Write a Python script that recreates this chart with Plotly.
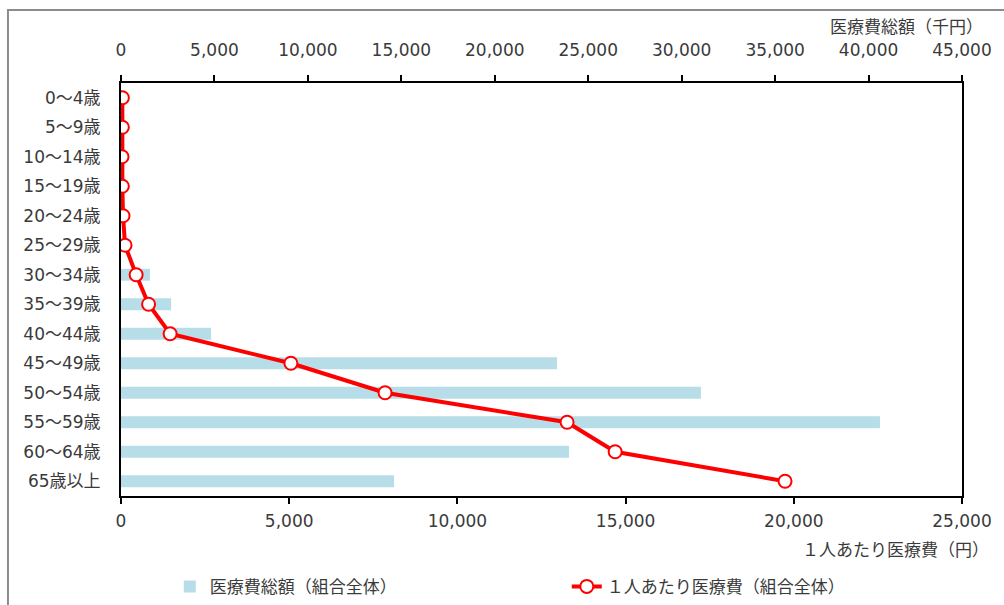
import plotly.graph_objects as go

# Age groups (top to bottom)
age_groups = ["0～4歳", "5～9歳", "10～14歳", "15～19歳", "20～24歳", "25～29歳",
              "30～34歳", "35～39歳", "40～44歳", "45～49歳", "50～54歳", "55～59歳",
              "60～64歳", "65歳以上"]

# Total medical expenses, whole association (thousand yen)
total_cost = [0, 0, 0, 0, 0, 0, 1550, 2680, 4820, 23330, 31030, 40610, 23970, 14610]

# Medical expenses per person, whole association (yen)
per_person = [40, 40, 30, 40, 60, 120, 450, 820, 1460, 5050, 7850, 13260, 14690, 19740]

FONT = "DejaVu Sans, Noto Sans CJK JP, sans-serif"
TXT = "#3a3a3a"
FS = 17

fig = go.Figure()

# bars on the top axis (thousand yen)
fig.add_trace(go.Bar(
    y=age_groups, x=total_cost, orientation="h", xaxis="x",
    name="医療費総額（組合全体）",
    marker=dict(color="#B7DDE8", line=dict(width=0)),
))

# per-person line on the bottom axis (yen), drawn above the bars
fig.add_trace(go.Scatter(
    y=age_groups, x=per_person, xaxis="x2", mode="lines+markers",
    name="１人あたり医療費（組合全体）",
    line=dict(color="#FF0000", width=4),
    marker=dict(symbol="circle", size=13, color="white",
                line=dict(color="#FF0000", width=2)),
))

axis_common = dict(
    showgrid=False, zeroline=False, showline=True, linecolor="black", linewidth=2,
    ticks="outside", ticklen=6, tickwidth=1.5, tickcolor="black",
    tickformat=",d", tickfont=dict(family=FONT, size=FS, color=TXT),
)

fig.update_layout(
    width=1004, height=605,
    margin=dict(l=121, r=42, t=83, b=109, autoexpand=False),
    paper_bgcolor="white", plot_bgcolor="white",
    font=dict(family=FONT, size=FS, color=TXT),
    bargap=0.6,
    xaxis=dict(range=[0, 45000], dtick=5000, side="top", ticklabelstandoff=12,
               **axis_common),
    xaxis2=dict(range=[0, 25000], dtick=5000, side="bottom", overlaying="x",
                anchor="y", ticklabelstandoff=3, **axis_common),
    yaxis=dict(type="category", range=[13.5, -0.5], showgrid=False,
               showline=True, linecolor="black", linewidth=2, mirror=True,
               ticks="", ticklabelstandoff=15,
               tickfont=dict(family=FONT, size=FS, color=TXT)),
    showlegend=True,
    legend=dict(orientation="h", x=0.058, y=-0.22, xanchor="left", yanchor="middle",
                entrywidth=352, entrywidthmode="pixels",
                font=dict(family=FONT, size=FS, color=TXT),
                bgcolor="rgba(0,0,0,0)", traceorder="normal"),
    annotations=[
        dict(text="医療費総額（千円）", xref="paper", yref="paper",
             x=1.027, y=1.136, xanchor="right", yanchor="middle", showarrow=False,
             font=dict(family=FONT, size=FS, color=TXT)),
        dict(text="１人あたり医療費（円）", xref="paper", yref="paper",
             x=1.0345, y=-0.131, xanchor="right", yanchor="middle", showarrow=False,
             font=dict(family=FONT, size=FS, color=TXT)),
    ],
    shapes=[
        # outer frame of the chart
        dict(type="rect", xref="paper", yref="paper",
             x0=-0.1344, x1=1.06, y0=-0.30, y1=1.177,
             line=dict(color="#8C8C8C", width=2), fillcolor="rgba(0,0,0,0)",
             layer="below"),
    ],
)

fig.write_html("out.html")
